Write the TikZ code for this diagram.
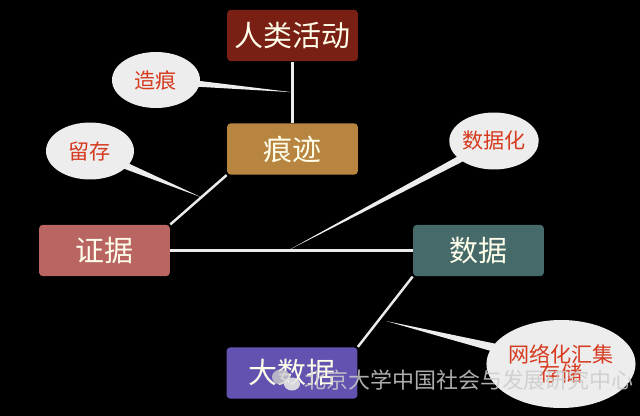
\documentclass[tikz,border=0pt]{standalone}
\usepackage{fontspec}
\setmainfont{Noto Sans CJK SC}
\usetikzlibrary{calc,shapes.geometric,shapes.callouts}
\definecolor{actred}{HTML}{7A1F14}
\definecolor{tracegold}{HTML}{B7853F}
\definecolor{evidrose}{HTML}{B96663}
\definecolor{datateal}{HTML}{456A69}
\definecolor{bigviolet}{HTML}{6452B0}
\definecolor{tagred}{HTML}{D63A1F}
\tikzset{
	stagebox/.style={draw=none, fill=#1, rounded corners=0.08cm, minimum width=2.62cm, minimum height=1.03cm, text=white!92!yellow, font=\fontsize{16.5}{18}\selectfont},
	tagbubble/.style={ellipse callout, fill=white!93!black, draw=none, inner sep=0pt, text=tagred, font=\fontsize{12}{14}\selectfont, callout pointer arc=12},
	link/.style={draw=white!92!black, line width=1.4pt}
}

\begin{document}
\begin{tikzpicture}[x=0.02cm, y=-0.02cm]
			%%%%% START %%%%%
			
			\fill[black] (0, 0) rectangle (640, 416);
			
			\node[stagebox=actred] (act) at (292.5, 35.5) {人类活动};
			\node[stagebox=tracegold] (trace) at (292.5, 149) {痕迹};
			\node[stagebox=evidrose] (evid) at (104.5, 250.5) {证据};
			\node[stagebox=datateal] (data) at (478.5, 250.5) {数据};
			\node[stagebox=bigviolet] (big) at (292, 373) {大数据};
			
			\draw[link] (act) -- (trace);
			\draw[link] (trace.south west) -- (evid.north east);
			\draw[link] (evid.east) -- (data.west);
			\draw[link] (data.south west) -- (big.north east);
			
			\coordinate (tipA) at ($(act.south)!0.5!(trace.north)$);
			\coordinate (tipB) at ($(trace.south west)!0.45!(evid.north east)$);
			\coordinate (tipC) at ($(evid.east)!0.485!(data.west)$);
			\coordinate (tipD) at (386, 321);
			
			\node[tagbubble, minimum width=1.76cm, minimum height=1.12cm, callout absolute pointer={(tipA)}] (makemark) at (156, 80) {造痕};
			\node[tagbubble, minimum width=1.76cm, minimum height=1.14cm, callout absolute pointer={(tipB)}] (keep) at (90, 151) {留存};
			\node[tagbubble, minimum width=1.76cm, minimum height=1.14cm, callout absolute pointer={(tipC)}] (datafy) at (494, 141) {数据化};
			\node[tagbubble, minimum width=2.84cm, minimum height=1.76cm, align=center, callout pointer arc=10, callout absolute pointer={(tipD)}] (gather) at (561, 364) {网络化汇集\\[-3pt]存储};
			
			% watermark
			\fill[white!80!black, opacity=0.8] (281, 377) ellipse (9 and 7.5);
			\fill[white!90!black, opacity=0.9] (292, 384) ellipse (8 and 6.5);
			\node[text=white!80!black, opacity=0.85, font=\fontsize{12.5}{14}\selectfont, anchor=west, inner sep=0pt] (mark) at (304, 380) {北京大学中国社会与发展研究中心};
			
			%%%%% END %%%%%
\end{tikzpicture}
\end{document}
